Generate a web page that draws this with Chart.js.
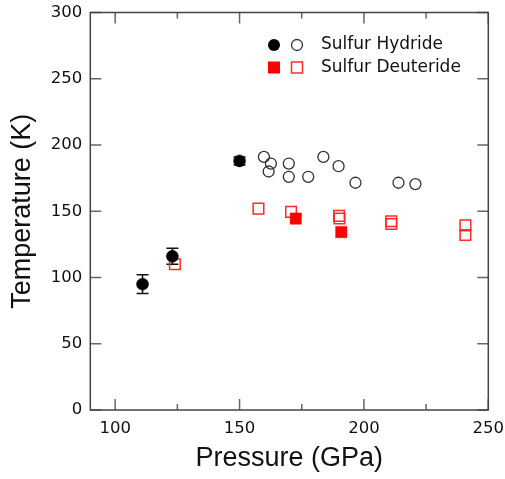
<!DOCTYPE html>
<html>
<head>
<meta charset="utf-8">
<script src="https://cdn.jsdelivr.net/npm/chart.js@4"></script>
<style>
  body { margin: 0; background: #fff; }
  canvas { display: block; }
</style>
</head>
<body>
<canvas id="tcChart" width="505" height="479"></canvas>
<script>
// Sulfur hydride, filled points with error bars
const hydrideFilledP = [111, 123, 150];
const hydrideFilledT = [95, 116, 188];
const hydrideFilledErr = [7, 6, 3];
// Sulfur hydride, open points
const hydrideOpenP = [159.8, 162.6, 161.7, 169.8, 169.8, 177.6, 183.7, 189.8, 196.6, 213.9, 220.7];
const hydrideOpenT = [191, 186, 180, 186, 176, 176, 191, 184, 171.5, 171.5, 170.5];
// Sulfur deuteride, filled
const deuterideFilledP = [172.6, 190.9];
const deuterideFilledT = [144.5, 134.3];
// Sulfur deuteride, open
const deuterideOpenP = [124, 157.6, 170.7, 190, 190.2, 211, 211, 240.8, 240.8];
const deuterideOpenT = [110, 152, 149.5, 146.5, 144.5, 142.5, 140.4, 139.3, 132.1];

const xTickValues = [100, 150, 200, 250];
const xMinorTicks = [125, 175, 225];
const yTickValues = [0, 50, 100, 150, 200, 250, 300];
const legendLabels = ["Sulfur Hydride", "Sulfur Deuteride"];

const toPoints = (xs, ys) => xs.map((x, i) => ({ x: x, y: ys[i] }));

// error bars under the filled hydride points
const errorBars = {
    id: 'errorBars',
    beforeDatasetsDraw(chart) {
        const { ctx, scales: { x, y } } = chart;
        ctx.save();
        ctx.strokeStyle = '#111';
        ctx.lineWidth = 1.5;
        hydrideFilledP.forEach((p, i) => {
            const px = x.getPixelForValue(p);
            const top = y.getPixelForValue(hydrideFilledT[i] + hydrideFilledErr[i]);
            const bot = y.getPixelForValue(hydrideFilledT[i] - hydrideFilledErr[i]);
            ctx.beginPath();
            ctx.moveTo(px, top); ctx.lineTo(px, bot);
            ctx.moveTo(px - 6, top); ctx.lineTo(px + 6, top);
            ctx.moveTo(px - 6, bot); ctx.lineTo(px + 6, bot);
            ctx.stroke();
        });
        ctx.restore();
    }
};

// box frame with inward ticks on all four sides, plus the legend
const frameAndLegend = {
    id: 'frameAndLegend',
    afterDraw(chart) {
        const { ctx, chartArea: a, scales: { x, y } } = chart;
        ctx.save();
        ctx.strokeStyle = '#666';
        ctx.lineWidth = 1.5;
        ctx.beginPath();
        xTickValues.forEach(v => {
            const px = x.getPixelForValue(v);
            ctx.moveTo(px, a.bottom); ctx.lineTo(px, a.bottom - 11);
            ctx.moveTo(px, a.top); ctx.lineTo(px, a.top + 11);
        });
        xMinorTicks.forEach(v => {
            const px = x.getPixelForValue(v);
            ctx.moveTo(px, a.bottom); ctx.lineTo(px, a.bottom - 6);
            ctx.moveTo(px, a.top); ctx.lineTo(px, a.top + 6);
        });
        yTickValues.forEach(v => {
            const py = y.getPixelForValue(v);
            ctx.moveTo(a.left, py); ctx.lineTo(a.left + 11, py);
            ctx.moveTo(a.right, py); ctx.lineTo(a.right - 11, py);
        });
        ctx.stroke();

        ctx.strokeStyle = '#444';
        ctx.lineWidth = 1.5;
        ctx.strokeRect(a.left, a.top, a.right - a.left, a.bottom - a.top);

        // legend
        const lx1 = 274, lx2 = 297, tx = 321;
        const rows = [45, 67.5];
        ctx.fillStyle = '#000';
        ctx.beginPath(); ctx.arc(lx1, rows[0], 6, 0, Math.PI * 2); ctx.fill();
        ctx.strokeStyle = '#333';
        ctx.lineWidth = 1.3;
        ctx.beginPath(); ctx.arc(lx2, rows[0], 5.5, 0, Math.PI * 2); ctx.stroke();
        ctx.fillStyle = '#ff0000';
        ctx.fillRect(lx1 - 6, rows[1] - 6, 12, 12);
        ctx.strokeStyle = '#ff2a2a';
        ctx.lineWidth = 1.5;
        ctx.strokeRect(lx2 - 5.5, rows[1] - 5.5, 11, 11);

        ctx.fillStyle = '#111';
        ctx.font = '17px "DejaVu Sans"';
        ctx.textBaseline = 'middle';
        ctx.textAlign = 'left';
        legendLabels.forEach((t, i) => ctx.fillText(t, tx, rows[i]));
        ctx.restore();
    }
};

const tickFont = { family: '"DejaVu Sans"', size: 16.5 };
const titleFont = { family: '"Liberation Sans", Arial', size: 27 };

new Chart(document.getElementById('tcChart').getContext('2d'), {
    type: 'scatter',
    data: {
        datasets: [
            {
                label: 'Sulfur Hydride',
                data: toPoints(hydrideFilledP, hydrideFilledT),
                pointStyle: 'circle',
                pointRadius: 6,
                backgroundColor: '#000',
                borderColor: '#000',
                borderWidth: 0.5
            },
            {
                label: 'Sulfur Hydride (open)',
                data: toPoints(hydrideOpenP, hydrideOpenT),
                pointStyle: 'circle',
                pointRadius: 5.5,
                backgroundColor: 'rgba(0,0,0,0)',
                borderColor: '#333',
                borderWidth: 1.3
            },
            {
                label: 'Sulfur Deuteride',
                data: toPoints(deuterideFilledP, deuterideFilledT),
                pointStyle: 'rect',
                pointRadius: 8,
                backgroundColor: '#ff0000',
                borderColor: '#ff0000',
                borderWidth: 0.5
            },
            {
                label: 'Sulfur Deuteride (open)',
                data: toPoints(deuterideOpenP, deuterideOpenT),
                pointStyle: 'rect',
                pointRadius: 7.5,
                backgroundColor: 'rgba(0,0,0,0)',
                borderColor: '#ff2a2a',
                borderWidth: 1.5
            }
        ]
    },
    options: {
        responsive: false,
        animation: false,
        devicePixelRatio: 1,
        events: [],
        layout: { padding: { top: 12.5, right: 16.7, left: 0, bottom: 0 } },
        plugins: {
            legend: { display: false },
            tooltip: { enabled: false }
        },
        scales: {
            x: {
                type: 'linear',
                min: 90,
                max: 250,
                afterBuildTicks: s => { s.ticks = xTickValues.map(v => ({ value: v })); },
                afterFit: s => { s.height = 69; s.paddingLeft = 0; s.paddingRight = 0; },
                grid: { display: false, drawTicks: false },
                border: { display: false },
                ticks: { font: tickFont, color: '#111', padding: 9, maxRotation: 0 },
                title: { display: true, text: 'Pressure (GPa)', font: titleFont, color: '#111', padding: { top: 0, bottom: 4 } }
            },
            y: {
                type: 'linear',
                min: 0,
                max: 300,
                afterBuildTicks: s => { s.ticks = yTickValues.map(v => ({ value: v })); },
                afterFit: s => { s.width = 90.3; s.paddingTop = 0; s.paddingBottom = 0; },
                grid: { display: false, drawTicks: false },
                border: { display: false },
                ticks: { font: tickFont, color: '#111', padding: 8 },
                title: { display: true, text: 'Temperature (K)', font: titleFont, color: '#111', padding: { top: 6, bottom: 0 } }
            }
        }
    },
    plugins: [errorBars, frameAndLegend]
});
</script>
</body>
</html>
